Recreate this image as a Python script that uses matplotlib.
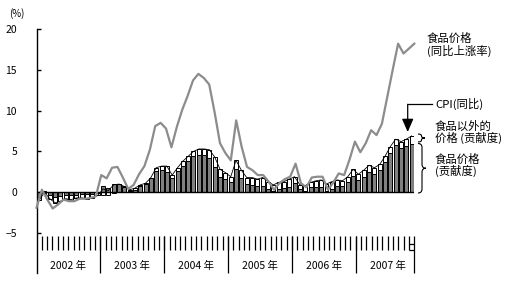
import numpy as np
import matplotlib
matplotlib.use("Agg")
import matplotlib.pyplot as plt
from matplotlib.path import Path
from matplotlib.patches import PathPatch

plt.rcParams['font.family'] = ['Noto Sans CJK SC', 'DejaVu Sans']

W, H = 524, 283

# 2002年1月 - 2007年11月, 月度数据
years = ["2002 年", "2003 年", "2004 年", "2005 年", "2006 年", "2007 年"]

# CPI (同比, %)
cpi = [-1.0, 0.0, -0.8, -1.3, -1.1, -0.8, -0.9, -0.7, -0.7, -0.8, -0.7, -0.4,
       0.4, 0.2, 0.9, 1.0, 0.7, 0.3, 0.5, 0.9, 1.1, 1.8, 3.0, 3.2,
       3.2, 2.1, 3.0, 3.8, 4.4, 5.0, 5.3, 5.3, 5.2, 4.3, 2.8, 2.4,
       1.9, 3.9, 2.7, 1.8, 1.8, 1.6, 1.8, 1.3, 0.9, 1.2, 1.3, 1.6,
       1.9, 0.9, 0.8, 1.2, 1.4, 1.5, 1.0, 1.3, 1.5, 1.4, 1.9, 2.8,
       2.2, 2.7, 3.3, 3.0, 3.4, 4.4, 5.6, 6.5, 6.2, 6.5, 6.9]

# 食品价格 (贡献度)
food_contrib = [-0.6, 0.1, -0.3, -0.6, -0.5, -0.3, -0.35, -0.35, -0.25, -0.25, -0.2, -0.15,
                0.7, 0.55, 0.95, 1.0, 0.6, 0.1, 0.3, 0.7, 1.0, 1.7, 2.6, 2.7,
                2.5, 1.75, 2.55, 3.2, 3.8, 4.4, 4.6, 4.5, 4.2, 3.1, 1.9, 1.6,
                1.25, 2.8, 1.8, 1.0, 0.85, 0.7, 0.7, 0.4, 0.1, 0.35, 0.5, 0.6,
                1.1, 0.35, 0.2, 0.6, 0.6, 0.6, 0.1, 0.4, 0.75, 0.7, 1.3, 2.0,
                1.55, 1.9, 2.45, 2.25, 2.7, 3.75, 4.8, 5.8, 5.45, 5.65, 5.85]

# 食品以外的价格 (贡献度)
nonfood_contrib = [-0.4, -0.1, -0.5, -0.7, -0.6, -0.5, -0.55, -0.35, -0.45, -0.55, -0.5, -0.25,
                   -0.3, -0.35, -0.05, 0.0, 0.1, 0.2, 0.2, 0.2, 0.1, 0.1, 0.4, 0.5,
                   0.7, 0.35, 0.45, 0.6, 0.6, 0.6, 0.7, 0.8, 1.0, 1.2, 0.9, 0.8,
                   0.65, 1.1, 0.9, 0.8, 0.95, 0.9, 1.1, 0.9, 0.8, 0.85, 0.8, 1.0,
                   0.8, 0.55, 0.6, 0.6, 0.8, 0.9, 0.9, 0.9, 0.75, 0.7, 0.6, 0.8,
                   0.65, 0.8, 0.85, 0.75, 0.7, 0.65, 0.8, 0.7, 0.75, 0.85, 1.05]

# 食品价格 (同比上涨率)
food_yoy = [-1.9, 0.3, -0.9, -2.0, -1.5, -0.9, -1.1, -1.1, -0.8, -0.8, -0.7, -0.5,
            2.1, 1.7, 3.0, 3.1, 1.8, 0.4, 0.9, 2.2, 3.2, 5.2, 8.1, 8.5,
            7.8, 5.5, 8.0, 10.1, 11.8, 13.7, 14.5, 14.0, 13.2, 9.8, 6.0, 4.8,
            3.9, 8.8, 5.6, 3.1, 2.7, 2.1, 2.1, 1.3, 0.3, 1.1, 1.6, 1.9,
            3.5, 1.1, 0.6, 1.8, 1.9, 1.9, 0.3, 1.2, 2.3, 2.1, 4.0, 6.2,
            4.9, 6.0, 7.6, 7.0, 8.4, 11.7, 15.0, 18.2, 17.0, 17.6, 18.2]

n = len(cpi)
x_bar = np.arange(n) + 0.5
x_line = np.arange(n) * n / (n - 1)

food = np.array(food_contrib)
nonfood = np.array(nonfood_contrib)
nf_bottom = np.where(nonfood >= 0, np.maximum(food, 0), np.minimum(food, 0))

fig = plt.figure(figsize=(W / 100, H / 100), dpi=100)
ax = fig.add_axes([36.5 / W, 10 / H, (414.3 - 36.5) / W, 244 / H])

ax.bar(x_bar, food, width=0.75, color="#808080", edgecolor="black", linewidth=0.7, zorder=2)
ax.bar(x_bar, nonfood, width=0.75, bottom=nf_bottom, color="white", edgecolor="black",
       linewidth=0.7, zorder=2)
ax.plot(x_bar, cpi, color="black", linewidth=0.6, zorder=3)
ax.plot(x_line, food_yoy, color="#8c8c8c", linewidth=1.6, zorder=4, clip_on=False)
ax.plot([0, n], [0, 0], color="black", linewidth=1.0, zorder=3)

ax.set_xlim(0, n)
ax.set_ylim(-9.9, 20)
for s in ["top", "right", "bottom"]:
    ax.spines[s].set_visible(False)
ax.spines["left"].set_linewidth(1.0)
ax.set_xticks([])
ax.set_yticks([-5, 0, 5, 10, 15, 20])
ax.tick_params(axis="y", direction="in", length=3, width=1.0, pad=14, labelsize=7.5)

# 月份刻度与年份分隔
ax.vlines(np.arange(1, n), -5.37, -7.07, color="black", linewidth=0.9, clip_on=False)
ax.vlines(np.arange(12, n, 12), -5.37, -9.9, color="black", linewidth=0.9, clip_on=False)
ax.vlines([n], -5.37, -9.9, color="black", linewidth=0.9, clip_on=False)
ax.hlines([-6.3, -7.07], n - 1, n, color="black", linewidth=0.9, clip_on=False)
for j, lab in enumerate(years):
    ax.text(12 * j + 6, -9.05, lab, ha="center", va="center", fontsize=7.5)

fig.text(17 / W, 1 - 14 / H, "(%)", ha="center", va="center", fontsize=7)

# 标注
fs = 8.2
fig.text(427 / W, 1 - 33 / H, "食品价格\n(同比上涨率)", ha="left", va="top", fontsize=fs, linespacing=1.05)
fig.text(435 / W, 1 - 104 / H, "CPI(同比)", ha="left", va="center", fontsize=fs)
fig.text(435 / W, 1 - 121 / H, "食品以外的\n价格 (贡献度)", ha="left", va="top", fontsize=fs, linespacing=1.0)
fig.text(435 / W, 1 - 154 / H, "食品价格\n(贡献度)", ha="left", va="top", fontsize=fs, linespacing=1.0)

# 箭头
fig.add_artist(plt.Line2D([431.7 / W, 407.7 / W], [1 - 104.3 / H, 1 - 104.3 / H],
                          color="black", linewidth=0.9))
ax.annotate("", xy=(407.7, H - 132), xytext=(407.7, H - 104.3), xycoords="figure pixels",
            textcoords="figure pixels",
            arrowprops=dict(arrowstyle="-|>,head_length=0.8,head_width=0.35", color="black",
                            linewidth=0.9, shrinkA=0, shrinkB=0))


def brace(x0, y_top, y_bot, w):
    ym = (y_top + y_bot) / 2
    xm = x0 + w / 2
    d = min(w / 2, (y_bot - y_top) / 4)
    pts = [(x0, y_top), (xm, y_top), (xm, y_top + d), (xm, ym - d), (xm, ym), (x0 + w, ym),
           (xm, ym), (xm, ym + d), (xm, y_bot - d), (xm, y_bot), (x0, y_bot)]
    codes = [Path.MOVETO, Path.CURVE3, Path.CURVE3, Path.LINETO, Path.CURVE3, Path.CURVE3,
             Path.CURVE3, Path.CURVE3, Path.LINETO, Path.CURVE3, Path.CURVE3]
    verts = [(px / W, 1 - py / H) for px, py in pts]
    fig.add_artist(PathPatch(Path(verts, codes), fill=False, edgecolor="black", linewidth=0.8,
                             transform=fig.transFigure))


brace(418, 134, 142, 7)
brace(418, 143.5, 193, 8)

fig.savefig("out.png", dpi=100)
